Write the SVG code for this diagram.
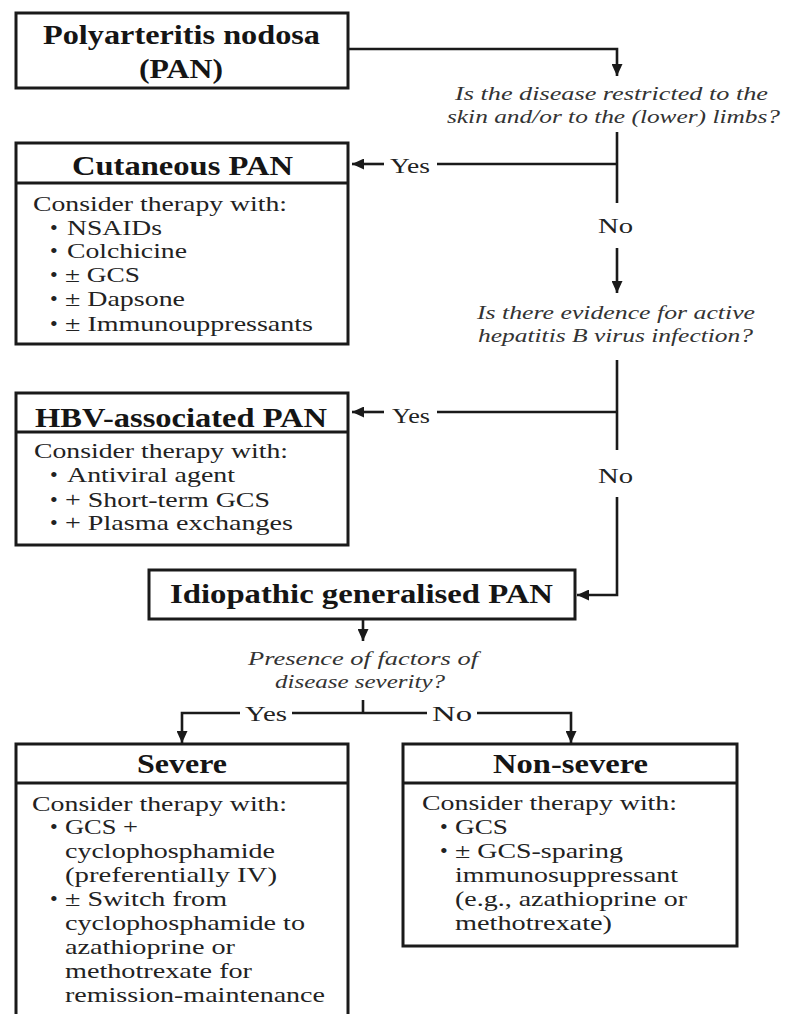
<svg xmlns="http://www.w3.org/2000/svg" width="785" height="1014" viewBox="0 0 785 1014">
<defs>
<marker id="arr" markerUnits="userSpaceOnUse" markerWidth="12" markerHeight="11" refX="12" refY="5.5" orient="auto">
<path d="M0,0 L12,5.5 L0,11 z" fill="#1a1a1a"/>
</marker>
<style>
.box{fill:#fff;stroke:#1a1a1a;stroke-width:3}
.div{stroke:#1a1a1a;stroke-width:3}
.ttl{font-family:"Liberation Serif","Times New Roman",serif;font-weight:bold;font-size:28px;fill:#151515;text-anchor:middle}
.bd{font-family:"Liberation Serif","Times New Roman",serif;font-size:22px;fill:#222}
.q{font-family:"Liberation Serif","Times New Roman",serif;font-style:italic;font-size:19px;fill:#333;text-anchor:middle}
.lbl{font-family:"Liberation Serif","Times New Roman",serif;font-size:21px;fill:#222}
.ln{fill:none;stroke:#1a1a1a;stroke-width:2.6}
.ar{fill:none;stroke:#1a1a1a;stroke-width:2.6;marker-end:url(#arr)}
</style>
</defs>
<rect width="785" height="1014" fill="#fff"/>

<g id="connectors">
<path class="ar" d="M348,49 H617 V76"/>
<path class="ln" d="M617,132 V203"/>
<path class="ln" d="M437,164 H617"/>
<path class="ar" d="M384,164 H352"/>
<path class="ar" d="M617,248 V293"/>
<path class="ln" d="M617,360 V450"/>
<path class="ln" d="M437,412 H617"/>
<path class="ar" d="M384,412 H352"/>
<path class="ar" d="M617,497 V595 H577"/>
<path class="ar" d="M363,619 V641"/>
<path class="ln" d="M363,700 V713"/>
<path class="ar" d="M240,713 H182 V743"/>
<path class="ln" d="M292,713 H427"/>
<path class="ar" d="M477,713 H571 V743"/>
<text class="lbl" x="390" y="173" textLength="40" lengthAdjust="spacingAndGlyphs">Yes</text>
<text class="lbl" x="598" y="233" textLength="35" lengthAdjust="spacingAndGlyphs">No</text>
<text class="lbl" x="392" y="423" textLength="38" lengthAdjust="spacingAndGlyphs">Yes</text>
<text class="lbl" x="598" y="483" textLength="35" lengthAdjust="spacingAndGlyphs">No</text>
<text class="lbl" x="245" y="721" textLength="42" lengthAdjust="spacingAndGlyphs">Yes</text>
<text class="lbl" x="432" y="721" textLength="40" lengthAdjust="spacingAndGlyphs">No</text>
</g>

<g id="pan">
<rect class="box" x="16" y="13" width="332" height="75"/>
<text class="ttl" x="181.5" y="44" textLength="277" lengthAdjust="spacingAndGlyphs">Polyarteritis nodosa</text>
<text class="ttl" x="181" y="78" textLength="84" lengthAdjust="spacingAndGlyphs">(PAN)</text>
</g>

<g id="q1">
<text class="q" x="611.5" y="100" textLength="313" lengthAdjust="spacingAndGlyphs">Is the disease restricted to the</text>
<text class="q" x="613.5" y="123" textLength="333" lengthAdjust="spacingAndGlyphs">skin and/or to the (lower) limbs?</text>
</g>

<g id="cutaneous">
<rect class="box" x="16" y="143" width="332" height="201"/>
<line class="div" x1="16" y1="183" x2="348" y2="183"/>
<text class="ttl" x="182.5" y="175" textLength="221" lengthAdjust="spacingAndGlyphs">Cutaneous PAN</text>
<text class="bd" x="33" y="211" textLength="254" lengthAdjust="spacingAndGlyphs">Consider therapy with:</text>
<text class="bd" x="50" y="235">•</text><text class="bd" x="67" y="235" textLength="95" lengthAdjust="spacingAndGlyphs">NSAIDs</text>
<text class="bd" x="50" y="258">•</text><text class="bd" x="67" y="258" textLength="120" lengthAdjust="spacingAndGlyphs">Colchicine</text>
<text class="bd" x="50" y="282">•</text><text class="bd" x="65" y="282" textLength="75" lengthAdjust="spacingAndGlyphs">± GCS</text>
<text class="bd" x="50" y="306">•</text><text class="bd" x="65" y="306" textLength="120" lengthAdjust="spacingAndGlyphs">± Dapsone</text>
<text class="bd" x="50" y="331">•</text><text class="bd" x="65" y="331" textLength="248" lengthAdjust="spacingAndGlyphs">± Immunouppressants</text>
</g>

<g id="q2">
<text class="q" x="616" y="319" textLength="278" lengthAdjust="spacingAndGlyphs">Is there evidence for active</text>
<text class="q" x="615.5" y="342" textLength="275" lengthAdjust="spacingAndGlyphs">hepatitis B virus infection?</text>
</g>

<g id="hbv">
<rect class="box" x="16" y="393" width="332" height="152"/>
<line class="div" x1="16" y1="432" x2="348" y2="432"/>
<text class="ttl" x="181" y="427" textLength="292" lengthAdjust="spacingAndGlyphs">HBV-associated PAN</text>
<text class="bd" x="34" y="458" textLength="254" lengthAdjust="spacingAndGlyphs">Consider therapy with:</text>
<text class="bd" x="50" y="482">•</text><text class="bd" x="67" y="482" textLength="168" lengthAdjust="spacingAndGlyphs">Antiviral agent</text>
<text class="bd" x="50" y="507">•</text><text class="bd" x="65" y="507" textLength="205" lengthAdjust="spacingAndGlyphs">+ Short-term GCS</text>
<text class="bd" x="50" y="530">•</text><text class="bd" x="65" y="530" textLength="228" lengthAdjust="spacingAndGlyphs">+ Plasma exchanges</text>
</g>

<g id="idiopathic">
<rect class="box" x="149" y="570" width="426" height="49"/>
<text class="ttl" x="361.5" y="603" textLength="383" lengthAdjust="spacingAndGlyphs">Idiopathic generalised PAN</text>
</g>

<g id="q3">
<text class="q" x="363" y="665" textLength="230" lengthAdjust="spacingAndGlyphs">Presence of factors of</text>
<text class="q" x="360" y="688" textLength="170" lengthAdjust="spacingAndGlyphs">disease severity?</text>
</g>

<g id="severe">
<rect class="box" x="16" y="744" width="332" height="300"/>
<line class="div" x1="16" y1="783" x2="348" y2="783"/>
<text class="ttl" x="182" y="773" textLength="90" lengthAdjust="spacingAndGlyphs">Severe</text>
<text class="bd" x="32" y="811" textLength="255" lengthAdjust="spacingAndGlyphs">Consider therapy with:</text>
<text class="bd" x="50" y="834">•</text><text class="bd" x="65" y="834" textLength="73" lengthAdjust="spacingAndGlyphs">GCS +</text>
<text class="bd" x="65" y="858" textLength="210" lengthAdjust="spacingAndGlyphs">cyclophosphamide</text>
<text class="bd" x="65" y="882" textLength="212" lengthAdjust="spacingAndGlyphs">(preferentially IV)</text>
<text class="bd" x="50" y="906">•</text><text class="bd" x="65" y="906" textLength="162" lengthAdjust="spacingAndGlyphs">± Switch from</text>
<text class="bd" x="65" y="930" textLength="240" lengthAdjust="spacingAndGlyphs">cyclophosphamide to</text>
<text class="bd" x="65" y="954" textLength="170" lengthAdjust="spacingAndGlyphs">azathioprine or</text>
<text class="bd" x="65" y="978" textLength="187" lengthAdjust="spacingAndGlyphs">methotrexate for</text>
<text class="bd" x="65" y="1002" textLength="260" lengthAdjust="spacingAndGlyphs">remission-maintenance</text>
</g>

<g id="nonsevere">
<rect class="box" x="403" y="744" width="334" height="202"/>
<line class="div" x1="403" y1="783" x2="737" y2="783"/>
<text class="ttl" x="570.5" y="773" textLength="155" lengthAdjust="spacingAndGlyphs">Non-severe</text>
<text class="bd" x="422" y="810" textLength="255" lengthAdjust="spacingAndGlyphs">Consider therapy with:</text>
<text class="bd" x="440" y="834">•</text><text class="bd" x="455" y="834" textLength="53" lengthAdjust="spacingAndGlyphs">GCS</text>
<text class="bd" x="440" y="858">•</text><text class="bd" x="455" y="858" textLength="168" lengthAdjust="spacingAndGlyphs">± GCS-sparing</text>
<text class="bd" x="455" y="882" textLength="223" lengthAdjust="spacingAndGlyphs">immunosuppressant</text>
<text class="bd" x="455" y="906" textLength="232" lengthAdjust="spacingAndGlyphs">(e.g., azathioprine or</text>
<text class="bd" x="455" y="930" textLength="157" lengthAdjust="spacingAndGlyphs">methotrexate)</text>
</g>
</svg>
